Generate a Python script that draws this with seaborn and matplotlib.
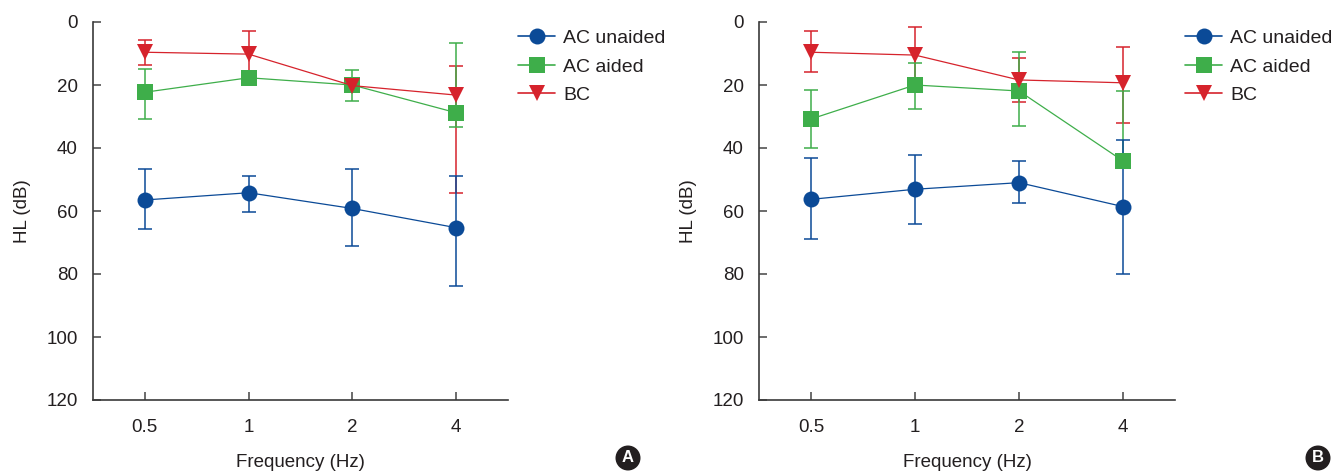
import matplotlib
matplotlib.use("Agg")
import matplotlib.pyplot as plt
from matplotlib.lines import Line2D
import numpy as np
import pandas as pd
import seaborn as sns

# ---------------- data ----------------
freq_labels = ["0.5", "1", "2", "4"]
series_names = ["AC unaided", "AC aided", "BC"]

# Panel A
A_unaided = [56.5, 54.2, 59.2, 65.3]
A_unaided_lo = [9.8, 5.3, 12.5, 16.5]
A_unaided_hi = [9.2, 6.0, 11.9, 18.5]
A_aided = [22.3, 17.7, 20.0, 28.8]
A_aided_lo = [7.3, 2.0, 4.7, 22.0]
A_aided_hi = [8.5, 2.0, 5.1, 4.5]
A_bc = [9.6, 10.2, 20.2, 23.2]
A_bc_lo = [4.0, 7.3, 1.5, 9.1]
A_bc_hi = [4.1, 7.5, 1.5, 31.2]

# Panel B
B_unaided = [56.3, 53.1, 51.0, 58.6]
B_unaided_lo = [13.0, 11.0, 6.8, 21.1]
B_unaided_hi = [12.7, 11.0, 6.4, 21.4]
B_aided = [30.8, 20.0, 21.9, 44.1]
B_aided_lo = [9.2, 7.1, 12.4, 22.1]
B_aided_hi = [9.3, 7.5, 11.1, 0.0]
B_bc = [9.6, 10.5, 18.4, 19.3]
B_bc_lo = [6.7, 9.0, 7.0, 11.5]
B_bc_hi = [6.3, 7.9, 7.0, 12.9]

colors = {"AC unaided": "#0b4a97", "AC aided": "#3eae4a", "BC": "#d6232c"}
markers = {"AC unaided": "o", "AC aided": "s", "BC": "v"}

sns.set_style("ticks")
plt.rcParams["font.family"] = ["Liberation Sans", "DejaVu Sans"]
TXT = "#231f20"

fig = plt.figure(figsize=(13.33, 4.74), dpi=100)
axA = fig.add_axes([93 / 1333, 1 - 400 / 474, 415 / 1333, 378 / 474])
axB = fig.add_axes([759 / 1333, 1 - 400 / 474, 416 / 1333, 378 / 474])


def draw(ax, vals, los, his, letter, letter_x):
    pos = np.arange(len(freq_labels))
    rows = []
    for name in series_names:
        for i, v in enumerate(vals[name]):
            rows.append({"pos": pos[i], "HL": v, "series": name})
    df = pd.DataFrame(rows)
    # error bars (drawn beneath markers)
    for name in ["BC", "AC aided", "AC unaided"]:
        ax.errorbar(pos, vals[name], yerr=[los[name], his[name]], fmt="none",
                    ecolor=colors[name], elinewidth=1.1, capsize=5,
                    capthick=1.1, zorder=2)
    sns.lineplot(data=df, x="pos", y="HL", hue="series", style="series",
                 hue_order=series_names, style_order=series_names,
                 palette=colors, markers=markers, dashes=False,
                 markersize=11.5, markeredgewidth=0, linewidth=0.9,
                 legend=False, ax=ax, zorder=3, sort=False)

    ax.set_xlim(-0.5, 3.5)
    ax.set_ylim(120, 0)
    ax.set_yticks(np.arange(0, 121, 20))
    ax.set_xticks(pos)
    ax.set_xticklabels(freq_labels)
    ax.set_xlabel("Frequency (Hz)", fontsize=13.5, color=TXT, labelpad=12.5)
    ax.set_ylabel("HL (dB)", fontsize=13.5, color=TXT, labelpad=11)
    ax.tick_params(axis="both", direction="in", length=6, width=1.1,
                   color="#444444", labelsize=13.5, labelcolor=TXT)
    ax.tick_params(axis="y", pad=11)
    ax.tick_params(axis="x", pad=14)
    for s in ["top", "right"]:
        ax.spines[s].set_visible(False)
    for s in ["left", "bottom"]:
        ax.spines[s].set_linewidth(1.2)
        ax.spines[s].set_color("#3a3a3a")

    handles = [Line2D([], [], color=colors[n], marker=markers[n], markersize=11.5,
                      markeredgewidth=0, linewidth=1.2)
               for n in series_names]
    ax.legend(handles, series_names, loc="upper left",
              bbox_to_anchor=(1.025, 0.98), frameon=False, borderaxespad=0,
              borderpad=0, fontsize=14, handlelength=1.9, handletextpad=0.4,
              labelspacing=0.56, labelcolor=TXT)

    fig.text(letter_x / 1333, 1 - 458 / 474, letter, ha="center", va="center",
             color="white", fontweight="bold", fontsize=12,
             bbox=dict(boxstyle="circle,pad=0.3", fc=TXT, ec="none"))


draw(axA,
     {"AC unaided": A_unaided, "AC aided": A_aided, "BC": A_bc},
     {"AC unaided": A_unaided_lo, "AC aided": A_aided_lo, "BC": A_bc_lo},
     {"AC unaided": A_unaided_hi, "AC aided": A_aided_hi, "BC": A_bc_hi},
     "A", 628)
draw(axB,
     {"AC unaided": B_unaided, "AC aided": B_aided, "BC": B_bc},
     {"AC unaided": B_unaided_lo, "AC aided": B_aided_lo, "BC": B_bc_lo},
     {"AC unaided": B_unaided_hi, "AC aided": B_aided_hi, "BC": B_bc_hi},
     "B", 1318)

fig.savefig("out.png", dpi=100)
